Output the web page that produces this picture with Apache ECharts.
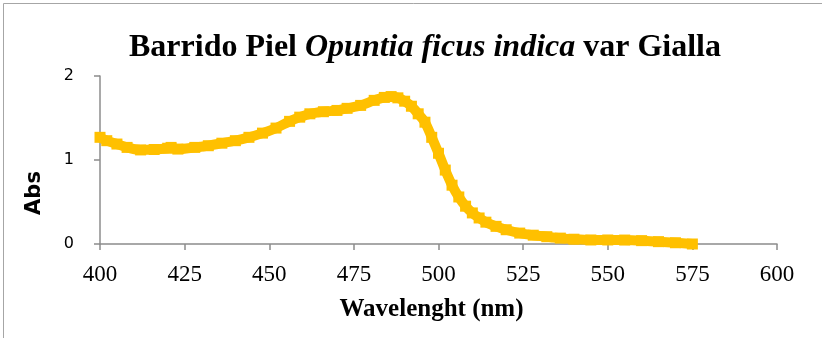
<!DOCTYPE html>
<html>
<head>
<meta charset="utf-8">
<script src="https://cdn.jsdelivr.net/npm/echarts@6/dist/echarts.min.js"></script>
<style>html,body{margin:0;padding:0;background:#fff}#c{width:822px;height:338px}</style>
</head>
<body>
<div id="c"></div>
<script>
var wavelengths = [400,402,405,408,412,416,420,421,423,428,432,436,440,444,448,452,456,459,462,466,470,473,477,481,484,486,488,490,492,494,496,498,500,502,504,506,508,510,512,514,517,520,524,528,532,536,540,545,550,555,560,565,570,575];
var absorbance = [1.27,1.23,1.19,1.15,1.12,1.125,1.14,1.15,1.13,1.15,1.17,1.20,1.23,1.27,1.32,1.38,1.46,1.51,1.55,1.575,1.59,1.615,1.65,1.71,1.745,1.755,1.74,1.70,1.64,1.55,1.45,1.27,1.08,0.88,0.70,0.56,0.45,0.37,0.31,0.26,0.21,0.17,0.13,0.105,0.087,0.07,0.057,0.048,0.048,0.047,0.04,0.028,0.015,0.0];
var xTicks = [400,425,450,475,500,525,550,575,600];
var yTicks = [0,1,2];

var data = wavelengths.map(function(w,i){return [w, absorbance[i]];});
var chart = echarts.init(document.getElementById('c'), null, {renderer:'canvas'});
chart.setOption({
  animation:false,
  backgroundColor:'#fff',
  title:{
    text:'{b|Barrido Piel }{i|Opuntia ficus indica}{b| var Gialla}',
    left:420, top:27, textAlign:'center',
    textStyle:{rich:{
      b:{fontFamily:'Liberation Serif',fontWeight:'bold',fontSize:32,color:'#000'},
      i:{fontFamily:'Liberation Serif',fontWeight:'bold',fontStyle:'italic',fontSize:32,color:'#000'}
    }}
  },
  graphic:[{type:'rect',shape:{x:3.5,y:3.5,width:900,height:500},style:{fill:'none',stroke:'#a6a6a6',lineWidth:1},silent:true}],
  grid:{left:100,right:45,top:76,bottom:94},
  xAxis:{
    type:'value', min:xTicks[0], max:xTicks[xTicks.length-1], interval:25,
    name:'Wavelenght (nm)', nameLocation:'middle', nameGap:53,
    nameTextStyle:{fontFamily:'Liberation Serif',fontWeight:'bold',fontSize:25,color:'#000',padding:[0,0,0,-14]},
    axisLine:{lineStyle:{color:'#8c8c8c',width:1.5}},
    axisTick:{show:true,length:6,lineStyle:{color:'#8c8c8c',width:1.5}},
    axisLabel:{margin:19,fontFamily:'Liberation Serif',fontSize:23,color:'#000'},
    splitLine:{show:false}
  },
  yAxis:{
    type:'value', min:yTicks[0], max:yTicks[yTicks.length-1], interval:1,
    name:'Abs', nameLocation:'middle', nameGap:55, nameRotate:90,
    nameTextStyle:{fontFamily:'DejaVu Sans',fontWeight:'bold',fontSize:21,color:'#000',padding:[0,0,0,-66]},
    axisLine:{show:true,lineStyle:{color:'#8c8c8c',width:1.5}},
    axisTick:{show:true,length:6,lineStyle:{color:'#8c8c8c',width:1.5}},
    axisLabel:{margin:26,fontFamily:'DejaVu Sans',fontSize:16,color:'#000'},
    splitLine:{show:false}
  },
  series:[{
    type:'line', data:data, smooth:0.3,
    symbol:'rect', symbolSize:11, showSymbol:true,
    itemStyle:{color:'#FFC000'},
    lineStyle:{color:'#FFC000',width:10}
  }]
});
</script>
</body>
</html>
